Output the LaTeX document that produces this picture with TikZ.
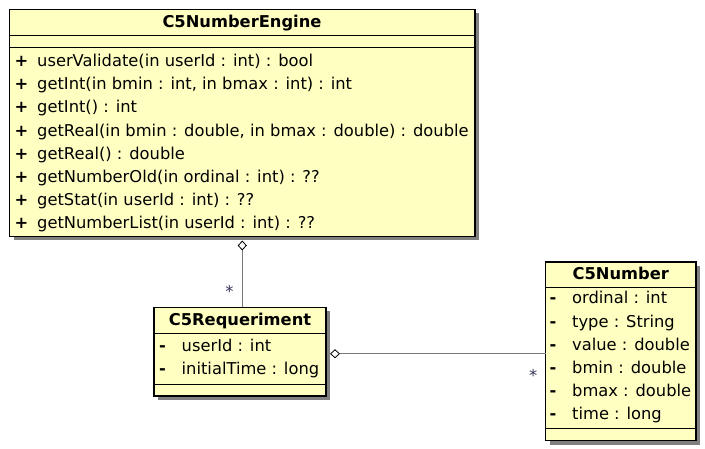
\documentclass[tikz,border=0pt]{standalone}
\usepackage{fontspec}
\setmainfont{DejaVu Sans}
\usepackage{tikz}
\usetikzlibrary{arrows.meta,shadows}

\definecolor{umlfill}{RGB}{255,255,194}
\definecolor{umlline}{RGB}{120,120,120}
\definecolor{umlmult}{RGB}{50,50,90}

\newcommand{\umlpub}{\makebox[22.5pt][l]{\bfseries +}}
\newcommand{\umlpriv}{\makebox[22.5pt][l]{\bfseries -}}

\begin{document}
\begin{tikzpicture}[x=1pt,y=-1pt,
    classbox/.style={draw=black, line width=1.1pt, fill=umlfill, anchor=north west,
      inner sep=0pt, outer sep=0pt,
      drop shadow={shadow xshift=4pt, shadow yshift=-4pt, fill=black!50, opacity=1}},
    sepline/.style={draw=black, line width=0.9pt},
    classname/.style={anchor=base, inner sep=0pt, font=\fontsize{16.3}{19}\selectfont\bfseries},
    member/.style={anchor=base west, inner sep=0pt, font=\fontsize{16.3}{19}\selectfont},
    assoc/.style={draw=umlline, line width=1.2pt,
      {Diamond[length=10pt, width=9pt, fill=white, color=black, line width=0.8pt]}-},
    mult/.style={anchor=base, inner sep=0pt, text=umlmult, font=\fontsize{16.3}{19}\selectfont}]
          \useasboundingbox (0,0) rectangle (705,449);

          % the three classes
          \node[classbox, minimum width=465.5pt, minimum height=227pt] (engine) at (9.5,9.5) {};
          \node[classbox, minimum width=172pt, minimum height=88.5pt] (req) at (154,307.5) {};
          \node[classbox, minimum width=150.5pt, minimum height=178.5pt] (num) at (545.5,262) {};

          \draw[sepline] (engine.west |- 0,35) -- (engine.east |- 0,35);
          \draw[sepline] (engine.west |- 0,47) -- (engine.east |- 0,47);
          \draw[sepline] (req.west |- 0,333) -- (req.east |- 0,333);
          \draw[sepline] (req.west |- 0,384) -- (req.east |- 0,384);
          \draw[sepline] (num.west |- 0,287) -- (num.east |- 0,287);
          \draw[sepline] (num.west |- 0,428.5) -- (num.east |- 0,428.5);

          \node[classname] (enginename) at (242,27.5) {C5NumberEngine};
          \node[classname] (reqname) at (240,325.5) {C5Requeriment};
          \node[classname] (numname) at (620.7,280) {C5Number};

          % operations
          \node[member] (op1) at (14.5,66.5) {\umlpub userValidate(in userId : int) : bool};
          \node[member] (op2) at (14.5,89.7) {\umlpub getInt(in bmin : int, in bmax : int) : int};
          \node[member] (op3) at (14.5,112.9) {\umlpub getInt() : int};
          \node[member] (op4) at (14.5,136.1) {\umlpub getReal(in bmin : double, in bmax : double) : double};
          \node[member] (op5) at (14.5,159.3) {\umlpub getReal() : double};
          \node[member] (op6) at (14.5,182.5) {\umlpub getNumberOld(in ordinal : int) : ??};
          \node[member] (op7) at (14.5,205.7) {\umlpub getStat(in userId : int) : ??};
          \node[member] (op8) at (14.5,228.9) {\umlpub getNumberList(in userId : int) : ??};

          % attributes
          \node[member] (reqat1) at (159,351.5) {\umlpriv userId : int};
          \node[member] (reqat2) at (159,374.5) {\umlpriv initialTime : long};

          \node[member] (numat1) at (549.5,304) {\umlpriv ordinal : int};
          \node[member] (numat2) at (549.5,327.2) {\umlpriv type : String};
          \node[member] (numat3) at (549.5,350.4) {\umlpriv value : double};
          \node[member] (numat4) at (549.5,373.6) {\umlpriv bmin : double};
          \node[member] (numat5) at (549.5,396.8) {\umlpriv bmax : double};
          \node[member] (numat6) at (549.5,420) {\umlpriv time : long};

          % associations
          \draw[assoc] ([yshift=-4pt]engine.south) -- (engine.south |- req.north);
          \draw[assoc] ([xshift=4pt,yshift=-2pt]req.east) -- ([yshift=-2.5pt]num.west);

          \node[mult] (reqmult) at (229.5,298) {*};
          \node[mult] (nummult) at (533.3,381.4) {*};
        \end{tikzpicture}
\end{document}
